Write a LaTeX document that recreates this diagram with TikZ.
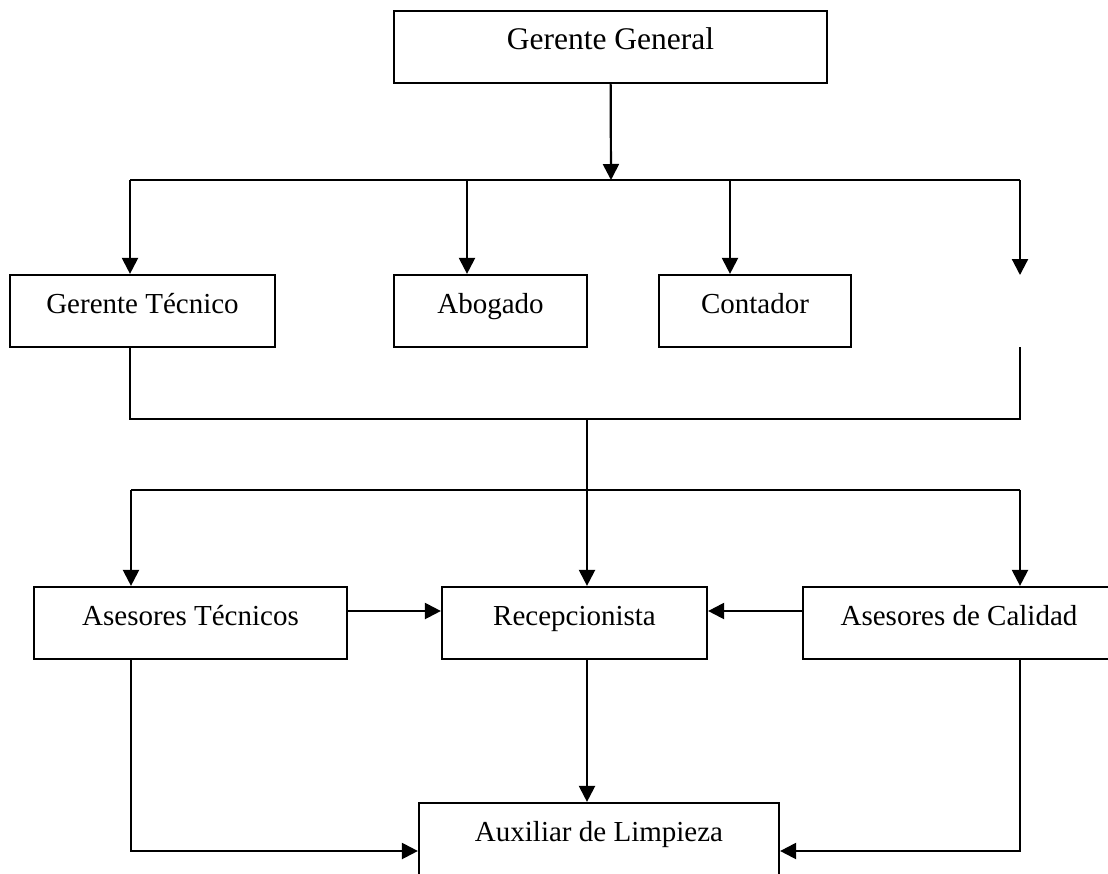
\documentclass[tikz,border=0pt]{standalone}
\usepackage{fontspec}
\setmainfont{Liberation Serif}
\usepackage{tikz}
\usetikzlibrary{arrows.meta}

\begin{document}
\begin{tikzpicture}[x=1pt, y=-1pt, line width=2.2pt, >={Triangle[width=16pt,length=16pt]},
  main/.style = {draw, rectangle, minimum height=72pt, inner sep=0pt, text height=12pt, text depth=8pt, font=\fontsize{29}{34}\selectfont}]
	\useasboundingbox (0, 0) rectangle (1108, 873);
	\clip (0, 0) rectangle (1108, 873);
	\node[main, minimum width=433pt, font=\fontsize{31.5}{36}\selectfont] (gg) at (610.5, 47){Gerente General};
	\node[main, minimum width=265pt] (gt) at (142.5, 311){Gerente Técnico};
	\node[main, minimum width=193pt] (abo) at (490.5, 311){Abogado};
	\node[main, minimum width=192pt] (con) at (755, 311){Contador};
	\node[main, minimum width=313pt] (at) at (190.5, 623){Asesores Técnicos};
	\node[main, minimum width=265pt] (rec) at (574.5, 623){Recepcionista};
	\node[main, minimum width=312pt] (cal) at (959, 623){Asesores de Calidad};
	\node[main, minimum width=360pt] (aux) at (599, 839){Auxiliar de Limpieza};
	\coordinate (vacA) at (1020, 275);
	\coordinate (vacB) at (1020, 347);
	\coordinate (b1) at (611, 180);
	\coordinate (s1) at (130, 180);
	\coordinate (e1) at (1020, 180);
	\coordinate (pAbo) at (467, 180);
	\coordinate (pCon) at (730, 180);
	\coordinate (s2) at (130, 419);
	\coordinate (e2) at (1020, 419);
	\coordinate (m2) at (587, 419);
	\coordinate (m3) at (587, 490);
	\coordinate (s3) at (131, 490);
	\coordinate (e3) at (1020, 490);
	\coordinate (s4) at (131, 851);
	\coordinate (e4) at (1020, 851);
	% primer nivel
	\draw[->] (gg) -- (b1);
	\draw[-] (s1) -- (e1);
	\draw[->] (s1) -- (s1 |- gt.north);
	\draw[->] (pAbo) -- (pAbo |- abo.north);
	\draw[->] (pCon) -- (pCon |- con.north);
	\draw[->] (e1) -- (vacA);
	% segundo nivel
	\draw[-] (s1 |- gt.south) -- (s2) -- (e2) -- (vacB);
	\draw[-] (m2) -- (m3);
	\draw[-] (s3) -- (e3);
	\draw[->] (s3) -- (s3 |- at.north);
	\draw[->] (m3) -- (m3 |- rec.north);
	\draw[->] (e3) -- (e3 |- cal.north);
	\draw[->] ([yshift=12pt]at.east) -- ([yshift=12pt]rec.west);
	\draw[->] ([yshift=12pt]cal.west) -- ([yshift=12pt]rec.east);
	% tercer nivel
	\draw[->] (m3 |- rec.south) -- (m3 |- aux.north);
	\draw[->] (s3 |- at.south) -- (s4) -- (s4 -| aux.west);
	\draw[->] (e3 |- cal.south) -- (e4) -- (e4 -| aux.east);
\end{tikzpicture}
\end{document}
